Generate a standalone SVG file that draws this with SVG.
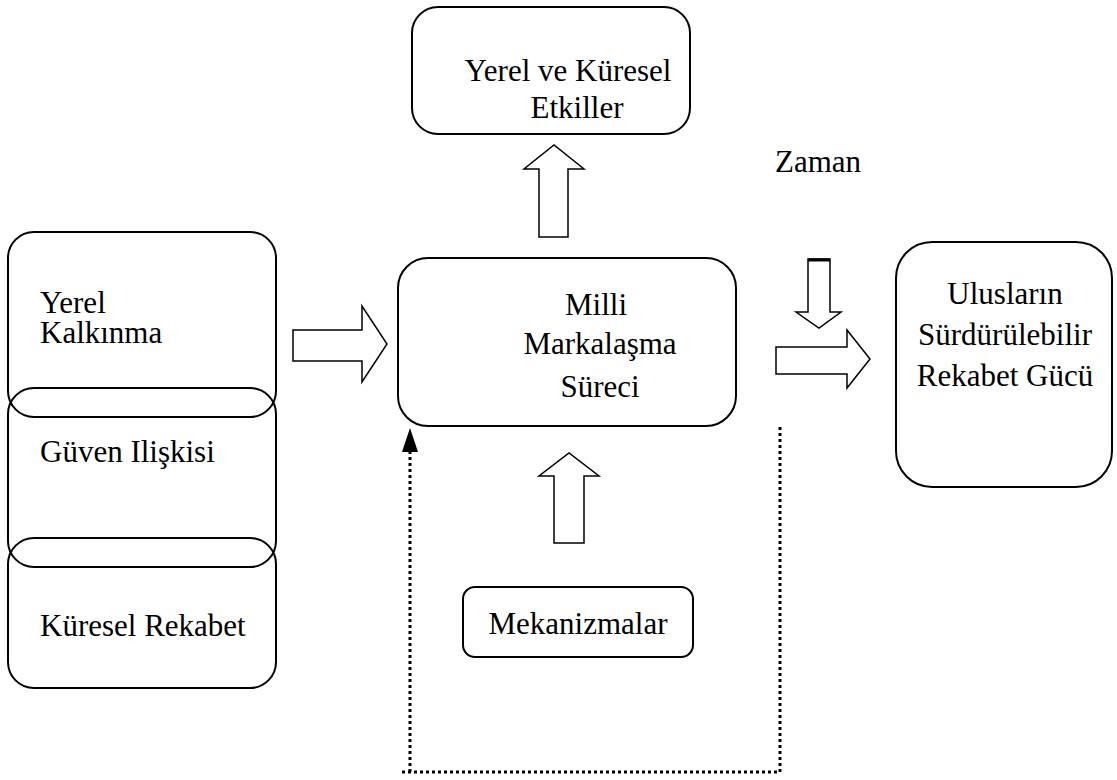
<svg xmlns="http://www.w3.org/2000/svg" width="1117" height="780" viewBox="0 0 1117 780">
<style>
.box{fill:none;stroke:#000;stroke-width:2}
.blk{fill:#fff;stroke:#000;stroke-width:1.5;stroke-linejoin:miter}
text{font-family:"Liberation Serif","Times New Roman",serif;font-size:31px;fill:#000}
.dot{fill:none;stroke:#000;stroke-width:3;stroke-dasharray:3 3}
</style>
<rect width="1117" height="780" fill="#fff"/>
<g id="left-yerel">
<rect class="box" x="8" y="232" width="268" height="185" rx="26"/>
<text x="40" y="313">Yerel</text>
<text x="40" y="343">Kalkınma</text>
</g>
<g id="left-guven">
<rect class="box" x="8" y="388" width="268" height="179" rx="26"/>
<text x="40" y="462">Güven Ilişkisi</text>
</g>
<g id="left-kuresel">
<rect class="box" x="8" y="538" width="268" height="150" rx="26"/>
<text x="40" y="636">Küresel Rekabet</text>
</g>
<g id="etkiller">
<rect class="box" x="412" y="7" width="278" height="127" rx="26"/>
<text x="568" y="81" text-anchor="middle">Yerel ve Küresel</text>
<text x="577" y="118" text-anchor="middle">Etkiller</text>
</g>
<g id="milli">
<rect class="box" x="398" y="258" width="338" height="168" rx="30"/>
<text x="596" y="315" text-anchor="middle">Milli</text>
<text x="600" y="354" text-anchor="middle">Markalaşma</text>
<text x="600" y="397" text-anchor="middle">Süreci</text>
</g>
<g id="zaman">
<text x="775" y="172">Zaman</text>
</g>
<g id="uluslar">
<rect class="box" x="896" y="242" width="216" height="245" rx="36"/>
<text x="1005" y="304" text-anchor="middle">Ulusların</text>
<text x="1005" y="345" text-anchor="middle">Sürdürülebilir</text>
<text x="1005" y="386" text-anchor="middle">Rekabet Gücü</text>
</g>
<g id="mekanizmalar">
<rect class="box" x="463" y="587" width="230" height="70" rx="12"/>
<text x="578" y="634" text-anchor="middle">Mekanizmalar</text>
</g>
<g id="connectors">
<polygon class="blk" points="539,237 568,237 568,169 584,169 554,145 524,169 539,169"/>
<polygon class="blk" points="293,330 362,330 362,306 387,344 362,382 362,361 293,361"/>
<polygon class="blk" points="776,347 847,347 847,330 870,359 847,388 847,374 776,374"/>
<polygon class="blk" points="808,259 830,259 830,312 841,312 819,328 796,312 808,312"/>
<line x1="808" y1="260" x2="830" y2="260" stroke="#000" stroke-width="3"/>
<polygon class="blk" points="554,543 584,543 584,476 599,476 569,453 539,476 554,476"/>
<path class="dot" d="M780,427 L780,772 L402,772"/>
<path class="dot" d="M410,772 L410,452" stroke-dasharray="5 3"/>
<polygon points="410,428 402,452 418,452" fill="#000"/>
</g>
</svg>
